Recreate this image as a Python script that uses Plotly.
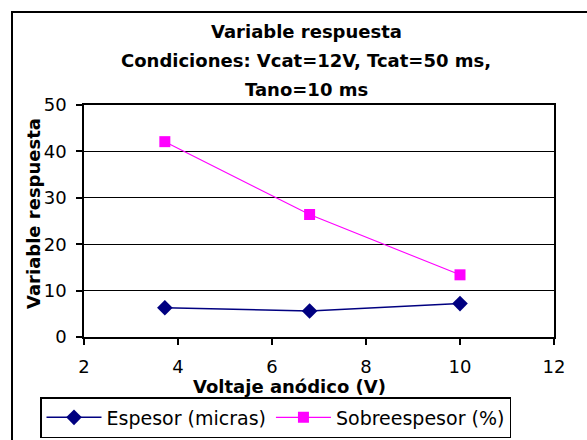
import plotly.graph_objects as go

# Data
voltaje = [3.72, 6.8, 10.0]
espesor = [6.3, 5.6, 7.2]
sobreespesor = [42.1, 26.4, 13.4]

title_lines = ["Variable respuesta", "Condiciones: Vcat=12V, Tcat=50 ms,", "Tano=10 ms"]
x_title = "Voltaje anódico (V)"
y_title = "Variable respuesta"
x_ticks = [2, 4, 6, 8, 10, 12]
y_ticks = [0, 10, 20, 30, 40, 50]

W, H = 587, 440
L, R, T, B = 84, 554, 105, 337


def px(x):
    return (x - L) / (R - L)


def py(y):
    return (B - y) / (B - T)


fig = go.Figure()
fig.add_trace(go.Scatter(
    x=voltaje, y=espesor, mode="lines+markers", name="Espesor (micras)",
    line=dict(color="#000080", width=1.5),
    marker=dict(symbol="diamond", size=12, color="#000080"),
))
fig.add_trace(go.Scatter(
    x=voltaje, y=sobreespesor, mode="lines+markers", name="Sobreespesor (%)",
    line=dict(color="#FF00FF", width=1.1),
    marker=dict(symbol="square", size=11, color="#FF00FF"),
))

tick_font = dict(family="DejaVu Sans, sans-serif", size=18, color="black")
bold_font = dict(family="DejaVu Sans, sans-serif", size=18, color="black")

fig.update_layout(
    width=W, height=H,
    margin=dict(l=L, r=W - R, t=T, b=H - B, autoexpand=False),
    paper_bgcolor="white", plot_bgcolor="white",
    showlegend=True,
    legend=dict(
        orientation="h", xref="container", yref="container",
        x=40 / W, y=1 - 397 / H, xanchor="left", yanchor="top",
        bordercolor="black", borderwidth=1.5, bgcolor="white",
        font=dict(family="DejaVu Sans, sans-serif", size=19, color="black"),
        itemwidth=55, tracegroupgap=0,
    ),
    xaxis=dict(
        range=[2, 12], tickvals=x_ticks, showgrid=False, zeroline=False,
        showline=True, linecolor="black", linewidth=1.5, mirror=True,
        ticks="outside", ticklen=6, tickcolor="black", tickwidth=1.5,
        tickfont=tick_font, ticklabelstandoff=7,
    ),
    yaxis=dict(
        range=[0, 50], tickvals=y_ticks, showgrid=True, gridcolor="black", gridwidth=1,
        zeroline=False,
        showline=True, linecolor="black", linewidth=1.5, mirror=True,
        ticks="outside", ticklen=6, tickcolor="black", tickwidth=1.5,
        tickfont=tick_font, ticklabelstandoff=6,
    ),
)

annotations = []
for text, ypix in zip(title_lines, [31, 61, 89]):
    annotations.append(dict(
        text="<b>%s</b>" % text, x=px(306), y=py(ypix), xref="paper", yref="paper",
        xanchor="center", yanchor="middle", showarrow=False, font=bold_font,
    ))
annotations.append(dict(
    text="<b>%s</b>" % x_title, x=px(289), y=py(386), xref="paper", yref="paper",
    xanchor="center", yanchor="middle", showarrow=False, font=bold_font,
))
annotations.append(dict(
    text="<b>%s</b>" % y_title, x=px(33), y=py(214), xref="paper", yref="paper",
    xanchor="center", yanchor="middle", showarrow=False, font=bold_font, textangle=-90,
))
fig.update_layout(annotations=annotations)

fig.add_shape(
    type="rect", xref="paper", yref="paper",
    x0=px(12), x1=px(620), y0=py(480), y1=py(12),
    line=dict(color="black", width=2), fillcolor="rgba(0,0,0,0)", layer="below",
)

fig.write_html("out.html")
